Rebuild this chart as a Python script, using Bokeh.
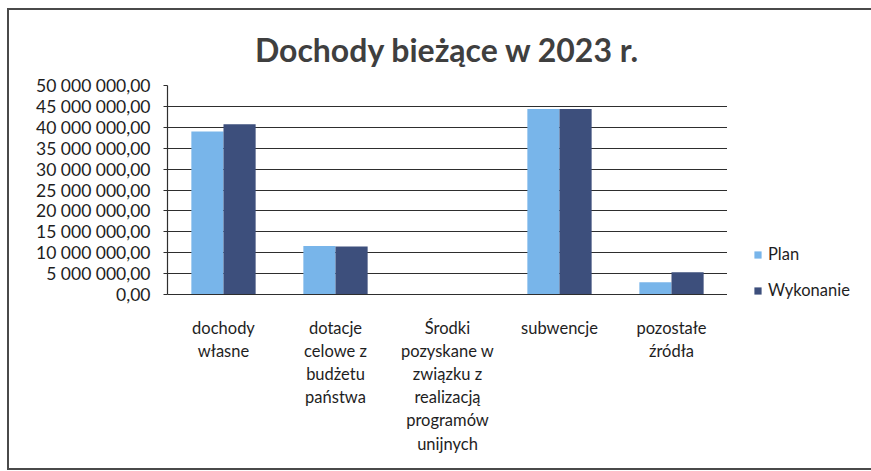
from bokeh.plotting import figure
from bokeh.layouts import row, column
from bokeh.models import FactorRange, Range1d, FixedTicker, Legend, LegendItem, Spacer
from bokeh.transform import dodge
from bokeh.embed import file_html
from bokeh.resources import INLINE

# ---- data ----
categories = [
    "dochody\nwłasne",
    "dotacje\ncelowe z\nbudżetu\npaństwa",
    "Środki\npozyskane w\nzwiązku z\nrealizacją\nprogramów\nunijnych",
    "subwencje",
    "pozostałe\nźródła",
]
plan = [39_000_000, 11_600_000, 0, 44_400_000, 2_950_000]
wykonanie = [40_750_000, 11_500_000, 0, 44_400_000, 5_300_000]
series_names = ["Plan", "Wykonanie"]
y_ticks = [0, 5e6, 10e6, 15e6, 20e6, 25e6, 30e6, 35e6, 40e6, 45e6, 50e6]
y_tick_labels = ["0,00", "5 000 000,00", "10 000 000,00", "15 000 000,00",
                 "20 000 000,00", "25 000 000,00", "30 000 000,00",
                 "35 000 000,00", "40 000 000,00", "45 000 000,00",
                 "50 000 000,00"]

FONT = "Lato"
TXT = "#1e1e1e"
GRID = "#2e2e2e"
C_PLAN = "#78b5ea"
C_WYK = "#3d4f7c"

OX, OY = 9, 10          # content origin on the page (after margin + border)
H = 458
FRAME_R = 727
W_MAIN = FRAME_R - OX
W_LEG = 871 - FRAME_R

p = figure(
    width=W_MAIN, height=H,
    x_range=FactorRange(*categories, range_padding=0),
    y_range=Range1d(0, 50e6),
    output_backend="svg", toolbar_location=None,
    min_border_left=167 - OX, min_border_right=0,
    min_border_top=81 - OY, min_border_bottom=H - (294 - OY),
    title="Dochody bieżące w 2023 r.",
)
p.outline_line_color = None
p.background_fill_color = "white"
p.border_fill_color = "white"

p.title.text_font = FONT
p.title.text_font_size = "32px"
p.title.text_font_style = "bold"
p.title.text_color = "#3f3f3f"
p.title.align = "center"
p.title.standoff = 34

src = dict(cat=categories, plan=plan, wyk=wykonanie)
r1 = p.vbar(x=dodge("cat", -0.1435, range=p.x_range), top="plan", width=0.287,
            source=src, fill_color=C_PLAN, line_color=None)
r2 = p.vbar(x=dodge("cat", 0.1435, range=p.x_range), top="wyk", width=0.287,
            source=src, fill_color=C_WYK, line_color=None)

# axes
p.yaxis.ticker = FixedTicker(ticks=y_ticks)
p.yaxis.major_label_overrides = {t: s for t, s in zip(y_ticks, y_tick_labels)}
p.yaxis.major_label_text_font = FONT
p.yaxis.major_label_text_font_size = "17.5px"
p.yaxis.major_label_text_color = TXT
p.yaxis.axis_line_color = GRID
p.yaxis.axis_line_width = 1.2
p.yaxis.major_tick_in = 0
p.yaxis.major_tick_out = 4
p.yaxis.major_tick_line_color = GRID
p.yaxis.minor_tick_line_color = None
p.yaxis.major_label_standoff = 13

p.xaxis.major_label_text_font = FONT
p.xaxis.major_label_text_font_size = "16.5px"
p.xaxis.major_label_text_color = TXT
p.xaxis.major_label_text_line_height = 1.16
p.xaxis.major_label_text_align = "center"
p.xaxis.major_label_text_baseline = "top"
p.xaxis.axis_line_color = GRID
p.xaxis.axis_line_width = 1.2
p.xaxis.major_tick_line_color = None
p.xaxis.minor_tick_line_color = None
p.xaxis.major_label_standoff = 17

p.xgrid.grid_line_color = None
p.ygrid.grid_line_color = GRID
p.ygrid.grid_line_width = 1.2

# legend panel (separate small figure to the right of the chart area)
LEG_TOP = 244
LEG_LEFT = 753
q = figure(width=W_LEG, height=70, x_range=FactorRange(*categories),
           y_range=Range1d(2e8, 3e8),
           x_axis_type=None, y_axis_type=None,
           output_backend="svg", toolbar_location=None,
           min_border_left=LEG_LEFT - FRAME_R, min_border_right=0,
           min_border_top=0, min_border_bottom=0)
q.outline_line_color = None
q.grid.visible = False
q.background_fill_color = "white"
q.border_fill_color = "white"
# same series, lying below this panel's view: only their legend swatches show
l1 = q.vbar(x="cat", top="plan", width=0.3, source=src, fill_color=C_PLAN, line_color=None)
l2 = q.vbar(x="cat", top="wyk", width=0.3, source=src, fill_color=C_WYK, line_color=None)
legend = Legend(
    items=[LegendItem(label=series_names[0], renderers=[l1]),
           LegendItem(label=series_names[1], renderers=[l2])],
    location="top_left", margin=0,
    glyph_width=9, glyph_height=9, label_standoff=6,
    label_text_font=FONT, label_text_font_size="16.5px", label_text_color=TXT,
    padding=0, spacing=16, border_line_color=None, background_fill_alpha=0,
    label_height=20,
)
q.add_layout(legend, "center")

right_col = column(Spacer(width=W_LEG, height=LEG_TOP - OY), q, spacing=0)
lay = row(p, right_col, spacing=0)
lay.styles = {"margin-left": "7px", "margin-top": "8px",
              "border-left": "2px solid #4a4a4a", "border-top": "2px solid #4a4a4a",
              "border-bottom": "2px solid #4a4a4a"}

open("out.html", "w").write(file_html(lay, INLINE))
